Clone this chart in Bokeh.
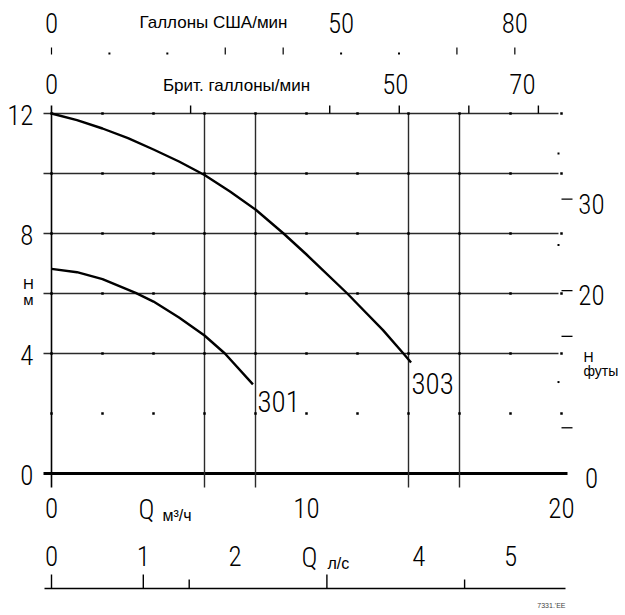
from bokeh.plotting import figure
from bokeh.core.properties import value
from bokeh.embed import file_html
from bokeh.resources import INLINE

# ---------------- data ----------------
# pump curve 301 : Q [m3/h] -> H [m]
q_301 = [0.0, 1.0, 2.0, 3.3, 4.0, 5.0, 6.0, 6.8, 7.9]
h_301 = [6.82, 6.71, 6.48, 6.02, 5.73, 5.2, 4.6, 4.0, 2.97]
# pump curve 303
q_303 = [0.0, 1.0, 2.0, 3.0, 4.0, 5.0, 6.0, 7.0, 8.0, 9.1, 10.0, 11.6, 12.0, 13.0, 13.8, 14.1]
h_303 = [12.0, 11.78, 11.5, 11.18, 10.8, 10.4, 9.95, 9.4, 8.8, 8.0, 7.3, 6.0, 5.65, 4.78, 4.0, 3.7]
curve_names = ["301", "303"]

# main axes
head_labels_m = [0, 4, 8, 12]
head_grid_m = [4, 6, 8, 10, 12]
head_dot_rows_m = [2, 4, 6, 8, 10, 12]
flow_dot_cols = [0, 2, 4, 6, 8, 10, 12, 14, 16, 18, 20]
flow_grid_m3h = [6, 8, 14, 16]
flow_labels_m3h = [0, 10, 20]

# secondary axes
us_gpm_line_ticks = [0, 30, 40, 70, 80]
us_gpm_dot_ticks = [10, 20, 50, 60]
us_gpm_labels = [0, 50, 80]
imp_gpm_ticks = [20, 40, 50, 60, 70]
imp_gpm_labels = [0, 50, 70]
ls_long_ticks = [0, 1, 3]
ls_short_ticks = [1.5, 4.5]
ls_labels = [0, 1, 2, 4, 5]
ft_line_ticks = [5, 15, 20, 30]
ft_dot_ticks = [10, 25, 35]
ft_labels = [0, 20, 30]

US_GPM_PER_M3H = 4.40287
IMP_GPM_PER_M3H = 3.66615
M3H_PER_LS = 3.6
M_PER_FT = 0.3048

# ---------------- layout helpers (picture pixel -> data) ----------------
W, H = 620, 612
def qx(px):
    return (px - 51.0) / 25.5
def hy(py):
    return (473.0 - py) / 30.0

NUM_FONT = value("'Roboto Condensed Light', 'Roboto Condensed', 'DejaVu Sans Condensed', 'Liberation Sans', sans-serif")
TXT_FONT = value("Liberation Sans")
NUM_SIZE = "27px"
INK = "#000000"
GRID = "#2a2a2a"

p = figure(width=W, height=H, output_backend="svg", toolbar_location=None,
           x_range=(qx(0), qx(W)), y_range=(hy(H), hy(0)),
           x_axis_location=None, y_axis_location=None, min_border=0,
           outline_line_color=None, background_fill_color="white",
           border_fill_color="white")
p.xgrid.visible = False
p.ygrid.visible = False

# grid lines
n = len(head_grid_m)
p.segment(x0=[qx(43)] * n, x1=[qx(558)] * n, y0=head_grid_m, y1=head_grid_m,
          line_color=GRID, line_width=1.4)
p.segment(x0=[qx(43)], x1=[qx(567)], y0=[0], y1=[0], line_color=INK, line_width=3)
m = len(flow_grid_m3h)
p.segment(x0=flow_grid_m3h, x1=flow_grid_m3h, y0=[12] * m, y1=[hy(487)] * m,
          line_color=GRID, line_width=1.4)
p.segment(x0=[0], x1=[0], y0=[hy(105)], y1=[hy(487)], line_color=INK, line_width=1.6)

# grid dots
dx, dy = [], []
for hv in head_dot_rows_m:
    for qv in flow_dot_cols:
        dx.append(qv)
        dy.append(hv)
p.scatter(dx, dy, marker="square", size=2.5, color=INK, line_width=0)

# curves
p.line(q_301, h_301, line_color=INK, line_width=2.4, line_join="round")
p.line(q_303, h_303, line_color=INK, line_width=2.4, line_join="round")
p.text(x=[qx(257), qx(411)], y=[hy(401), hy(383)], text=curve_names,
       text_font=NUM_FONT, text_font_size="29px", text_align="left",
       text_baseline="middle", text_color=INK)

# left axis labels
p.text(x=[qx(33)] * len(head_labels_m), y=[v - 0.05 for v in head_labels_m],
       text=[str(v) for v in head_labels_m], text_font=NUM_FONT,
       text_font_size=NUM_SIZE, text_align="right", text_baseline="middle", text_color=INK)
p.text(x=[qx(28), qx(28)], y=[hy(283), hy(299)], text=["H", "м"], text_font=TXT_FONT,
       text_font_size="15px", text_align="center", text_baseline="middle", text_color=INK)

# bottom m3/h labels
p.text(x=flow_labels_m3h, y=[hy(507)] * len(flow_labels_m3h),
       text=[str(v) for v in flow_labels_m3h], text_font=NUM_FONT,
       text_font_size=NUM_SIZE, text_align="center", text_baseline="middle", text_color=INK)
p.text(x=[qx(146)], y=[hy(509)], text=["Q"], text_font=NUM_FONT, text_font_size=NUM_SIZE,
       text_align="center", text_baseline="middle", text_color=INK)
p.text(x=[qx(162)], y=[hy(515)], text=["м³/ч"], text_font=TXT_FONT, text_font_size="16px",
       text_align="left", text_baseline="middle", text_color=INK)

# bottom l/s axis
p.segment(x0=[qx(44)], x1=[qx(565)], y0=[hy(588)], y1=[hy(588)], line_color=INK, line_width=1.4)
lx = [v * M3H_PER_LS for v in ls_long_ticks]
p.segment(x0=lx, x1=lx, y0=[hy(574)] * len(lx), y1=[hy(588)] * len(lx),
          line_color=INK, line_width=1.4)
sx = [v * M3H_PER_LS for v in ls_short_ticks]
p.segment(x0=sx, x1=sx, y0=[hy(579)] * len(sx), y1=[hy(588)] * len(sx),
          line_color=INK, line_width=1.4)
p.text(x=[v * M3H_PER_LS for v in ls_labels], y=[hy(555)] * len(ls_labels),
       text=[str(v) for v in ls_labels], text_font=NUM_FONT, text_font_size=NUM_SIZE,
       text_align="center", text_baseline="middle", text_color=INK)
p.text(x=[qx(309)], y=[hy(557)], text=["Q"], text_font=NUM_FONT, text_font_size=NUM_SIZE,
       text_align="center", text_baseline="middle", text_color=INK)
p.text(x=[qx(327)], y=[hy(563)], text=["л/с"], text_font=TXT_FONT, text_font_size="16px",
       text_align="left", text_baseline="middle", text_color=INK)

# top US gallons axis
ux = [v / US_GPM_PER_M3H for v in us_gpm_line_ticks]
p.segment(x0=ux, x1=ux, y0=[hy(47)] * len(ux), y1=[hy(54)] * len(ux),
          line_color=INK, line_width=1.2)
p.scatter([v / US_GPM_PER_M3H for v in us_gpm_dot_ticks], [hy(53)] * len(us_gpm_dot_ticks),
          marker="square", size=2, color=INK, line_width=0)
p.text(x=[v / US_GPM_PER_M3H for v in us_gpm_labels], y=[hy(22)] * len(us_gpm_labels),
       text=[str(v) for v in us_gpm_labels], text_font=NUM_FONT, text_font_size=NUM_SIZE,
       text_align="center", text_baseline="middle", text_color=INK)
p.text(x=[qx(213)], y=[hy(22)], text=["Галлоны США/мин"], text_font=TXT_FONT,
       text_font_size="17px", text_align="center", text_baseline="middle", text_color=INK)

# top imperial gallons axis
ix = [v / IMP_GPM_PER_M3H for v in imp_gpm_ticks]
p.segment(x0=ix, x1=ix, y0=[hy(105)] * len(ix), y1=[12] * len(ix),
          line_color=INK, line_width=1.4)
p.text(x=[v / IMP_GPM_PER_M3H for v in imp_gpm_labels], y=[hy(83)] * len(imp_gpm_labels),
       text=[str(v) for v in imp_gpm_labels], x_offset=[0, -4, -16], text_font=NUM_FONT,
       text_font_size=NUM_SIZE, text_align="center", text_baseline="middle", text_color=INK)
p.text(x=[qx(236)], y=[hy(85)], text=["Брит. галлоны/мин"], text_font=TXT_FONT,
       text_font_size="17px", text_align="center", text_baseline="middle", text_color=INK)

# right feet axis
fy = [v * M_PER_FT for v in ft_line_ticks]
p.segment(x0=[qx(561)] * len(fy), x1=[qx(572)] * len(fy), y0=fy, y1=fy,
          line_color=INK, line_width=1.3)
p.scatter([qx(558)] * len(ft_dot_ticks), [v * M_PER_FT for v in ft_dot_ticks],
          marker="square", size=2, color=INK, line_width=0)
p.text(x=[qx(591)] * len(ft_labels), y=[v * M_PER_FT - 0.15 for v in ft_labels],
       text=[str(v) for v in ft_labels], text_font=NUM_FONT, text_font_size=NUM_SIZE,
       text_align="center", text_baseline="middle", text_color=INK)
p.text(x=[qx(583), qx(583)], y=[hy(356), hy(370)], text=["H", "футы"], text_font=TXT_FONT,
       text_font_size="14px", text_align="left", text_baseline="middle", text_color=INK)

# drawing reference mark
p.text(x=[qx(565)], y=[hy(605)], text=["7331.'EE"], text_font=TXT_FONT,
       text_font_size="7px", text_align="right", text_baseline="middle", text_color="#444444")

open("out.html", "w").write(file_html(p, INLINE))
